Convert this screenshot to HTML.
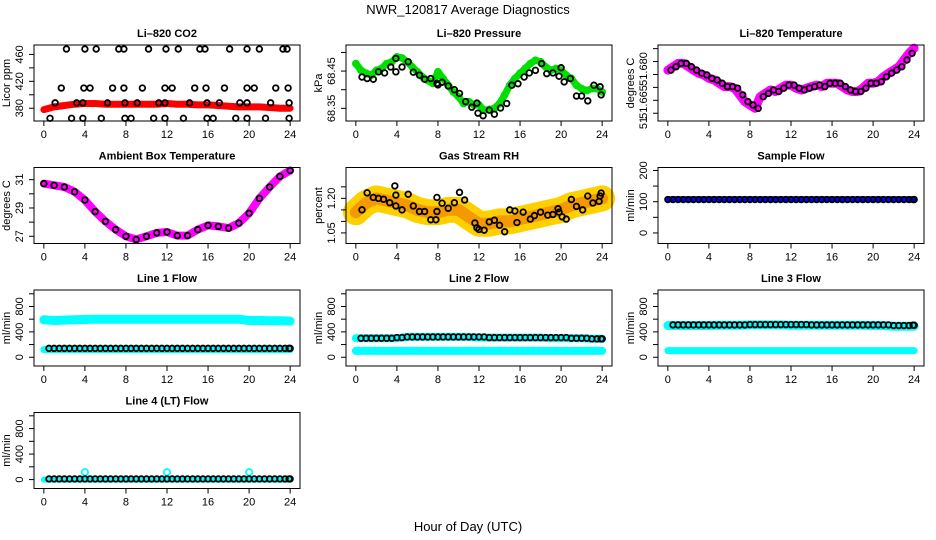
<!DOCTYPE html>
<html><head><meta charset="utf-8"><style>
html,body{margin:0;padding:0;background:#fff;}
svg{display:block;font-family:"Liberation Sans",sans-serif;}
</style></head><body>
<svg id="chart" width="936" height="540" viewBox="0 0 936 540" xmlns="http://www.w3.org/2000/svg">
<text x="468" y="14" text-anchor="middle" font-size="13">NWR_120817  Average Diagnostics</text>
<text x="468" y="531" text-anchor="middle" font-size="13">Hour of Day (UTC)</text>
</svg>
<script>
// ---- data ----
const co2Hours=[0,1,2,3,4,5,6,7,8,9,10,11,12,13,14,15,16,17,18,19,20,21,22,23,24];
const co2Red=[378,382,384,386,387,387,386,386,386,386,386,386,387,386,386,385,385,384,383,382,382,382,381,380,380];
const co2BlackHours=[2.2,4.0,5.1,7.3,7.8,10.2,11.9,13.1,15.2,15.7,18.1,19.8,21.0,23.3,23.7,1.7,3.9,4.5,6.7,7.8,9.6,11.8,12.5,14.7,15.8,17.6,19.8,20.5,22.6,23.8,1.1,3.2,3.8,6.2,7.9,9.1,11.2,11.8,14.2,15.9,17.1,19.1,19.8,22.1,23.9,0.6,2.7,3.8,5.6,7.9,8.5,10.7,11.8,13.6,15.9,16.5,18.7,19.8,21.6,23.9];
const co2BlackValues=[468,468,468,468,468,468,468,468,468,468,468,468,468,468,468,410,410,410,410,410,410,410,410,410,410,410,410,410,410,410,388,388,388,388,388,388,388,388,388,388,388,388,388,388,388,365,365,365,365,365,365,365,365,365,365,365,365,365,365,365];

const halfHours=[0,0.5,1,1.5,2,2.5,3,3.5,4,4.5,5,5.5,6,6.5,7,7.5,8,8.5,9,9.5,10,10.5,11,11.5,12,12.5,13,13.5,14,14.5,15,15.5,16,16.5,17,17.5,18,18.5,19,19.5,20,20.5,21,21.5,22,22.5,23,23.5,24];
const presGreen=[68.470,68.452,68.444,68.439,68.452,68.457,68.470,68.475,68.488,68.485,68.475,68.461,68.448,68.434,68.425,68.417,68.448,68.430,68.412,68.394,68.381,68.363,68.368,68.359,68.359,68.345,68.347,68.350,68.363,68.386,68.412,68.430,68.444,68.457,68.470,68.479,68.475,68.461,68.452,68.457,68.452,68.439,68.430,68.412,68.403,68.398,68.403,68.403,68.394];
const presBlackHours=[0.6,1.1,1.7,2.2,2.8,3.4,3.9,3.9,4.5,5.1,5.6,6.2,6.7,7.3,7.9,8.0,8.4,9.0,9.6,10.1,10.7,11.3,11.8,11.9,12.4,13.0,13.5,14.1,14.7,15.2,15.8,16.4,16.9,17.5,18.1,18.6,19.2,19.8,20.0,20.3,20.9,21.5,22.0,22.6,23.2,23.8,23.9];
const presBlackValues=[68.434,68.430,68.428,68.448,68.445,68.461,68.448,68.484,68.461,68.475,68.447,68.439,68.428,68.430,68.417,68.413,68.420,68.410,68.400,68.390,68.368,68.353,68.364,68.337,68.330,68.345,68.334,68.351,68.363,68.412,68.416,68.434,68.445,68.452,68.470,68.443,68.445,68.436,68.459,68.421,68.430,68.383,68.383,68.370,68.412,68.408,68.386];

const tempMagenta=[51.6767,51.678,51.6793,51.6793,51.678,51.6767,51.6755,51.6748,51.6735,51.6729,51.6716,51.6703,51.6703,51.6697,51.6671,51.6645,51.6632,51.6619,51.6664,51.6677,51.669,51.6684,51.6697,51.6709,51.6709,51.6697,51.669,51.6697,51.6703,51.6709,51.6703,51.6716,51.6716,51.6716,51.6703,51.669,51.6684,51.6684,51.6697,51.6716,51.6716,51.6722,51.6741,51.6755,51.6767,51.678,51.6806,51.6832,51.6852];

const hourly=[0,1,2,3,4,5,6,7,8,9,10,11,12,13,14,15,16,17,18,19,20,21,22,23,24];
const ambient=[30.72,30.6,30.48,30.14,29.56,28.74,28.05,27.47,27.0,26.77,27.0,27.24,27.3,27.05,27.05,27.47,27.77,27.7,27.58,27.93,28.63,29.68,30.48,31.23,31.65];

const rhBand=[1.14,1.18,1.2,1.19,1.18,1.17,1.15,1.14,1.14,1.15,1.15,1.12,1.09,1.09,1.1,1.1,1.11,1.12,1.13,1.14,1.15,1.17,1.18,1.19,1.2];
const rhBlackHours=[0.6,1.1,1.7,2.2,2.7,3.3,3.8,3.9,3.9,4.5,5.1,5.6,6.2,6.7,7.3,7.8,7.9,7.9,8.4,9.0,9.6,10.1,10.6,11.6,11.8,12.0,12.5,13.0,13.5,14.0,14.5,15.0,15.5,15.7,16.3,17.0,17.4,18.0,18.7,19.2,19.7,19.8,20.1,20.5,21.0,21.5,22.1,22.6,23.1,23.7,23.8,23.9];
const rhBlackValues=[1.15,1.224,1.204,1.2,1.196,1.181,1.254,1.214,1.167,1.15,1.218,1.167,1.143,1.143,1.107,1.107,1.143,1.204,1.179,1.157,1.181,1.226,1.193,1.093,1.072,1.065,1.062,1.098,1.105,1.083,1.055,1.15,1.145,1.095,1.14,1.11,1.125,1.14,1.127,1.13,1.155,1.14,1.12,1.11,1.195,1.165,1.15,1.21,1.18,1.187,1.21,1.223];

const sampleBlue=[108,108,108,108,108,108,108,108,108,108,108,108,108,108,108,108,108,108,108,108,108,108,108,108,108];
const sampleBlack=[107,107,107,107,107,107,107,107,107,107,107,107,107,107,107,107,107,107,107,107,107,107,107,107,107];

const line1CyanHigh=[590,580,585,590,595,600,600,600,600,600,600,600,600,600,600,600,600,600,600,600,580,580,575,575,570];
const line1CyanLow=[120,120,120,120,120,120,120,120,120,120,120,120,120,120,120,120,120,120,120,120,120,120,120,120,120];
const line1Black=[140,140,140,140,140,140,140,140,140,140,140,140,140,140,140,140,140,140,140,140,140,140,140,140,140];
const line2CyanHigh=[300,300,300,300,300,320,320,320,320,320,320,320,310,310,310,310,310,310,310,300,300,300,300,290,290];
const line2CyanLow=[100,100,100,100,100,100,100,100,100,100,100,100,100,100,100,100,100,100,100,100,100,100,100,100,100];
const line2Black=[300,300,300,300,310,320,320,320,320,320,320,320,320,310,310,310,310,310,310,310,310,300,300,290,290];
const line3CyanHigh=[500,500,500,500,500,505,505,505,510,510,510,510,505,505,505,505,505,505,505,505,500,500,490,490,490];
const line3CyanLow=[105,105,105,105,105,105,105,105,105,105,105,105,105,105,105,105,105,105,105,105,105,105,105,105,105];
const line3Black=[510,510,510,510,510,510,510,510,515,515,515,515,515,515,510,510,510,510,510,510,510,510,500,500,505];
const line4Cyan=[0,0,0,0,0,0,0,0,0,0,0,0,0,0,0,0,0,0,0,0,0,0,0,0,0];
const line4Spikes=[4,12,20];
const line4SpikeValues=[115,115,115];
const line4Black=[10,10,10,10,10,10,10,10,10,10,10,10,10,10,10,10,10,10,10,10,10,10,10,10,10];

// ---- drawing ----
const NS="http://www.w3.org/2000/svg";
const svg=document.getElementById('chart');
const colLeft=[34,346,658], rowTop=[45,167.5,290,412.5], PW=266, PH=76;
function mk(tag,attrs,parent){const e=document.createElementNS(NS,tag);for(const k in attrs)e.setAttribute(k,attrs[k]);(parent||svg).appendChild(e);return e;}

function panel(name,col,row,ymin,ymax,ticks,labels,ylab,title,labelY){
  const L=colLeft[col],T=rowTop[row];
  const g=mk('g',{});
  
  
  const xs=h=>L+(h+0.96)/25.92*PW;
  const ys=v=>T+PH-(v-ymin)/(ymax-ymin)*PH;
  const t=mk('text',{x:L+PW/2,y:T-8,'text-anchor':'middle','font-size':11,'font-weight':'bold'},g);
  t.textContent=title;
  
  
  const plot=mk('g',{},g);
  
  
  const axes=mk('g',{stroke:'#000','stroke-width':1,fill:'none'},g);
  
  
  mk('rect',{x:L,y:T,width:PW,height:PH},axes);
  [0,4,8,12,16,20,24].forEach(h=>{
    mk('line',{x1:xs(h),x2:xs(h),y1:T+PH,y2:T+PH+5},axes);
    const tx=mk('text',{x:xs(h),y:T+PH+17,'text-anchor':'middle','font-size':11,fill:'#000',stroke:'none'},g);
    tx.textContent=h;
    
    
  });
  ticks.forEach((v,i)=>{
    const y=ys(v);
    mk('line',{x1:L-5,x2:L,y1:y,y2:y},axes);
    if(labels[i]!==''){
      const yy=labelY?labelY[i]:y;
      const ty=mk('text',{x:0,y:0,'text-anchor':'middle','font-size':11,fill:'#000',transform:`translate(${L-11},${yy}) rotate(-90)`},g);
      ty.textContent=labels[i];
      
      
    }
  });
  const yl=mk('text',{x:0,y:0,'text-anchor':'middle','font-size':11,transform:`translate(${L-24},${T+PH/2}) rotate(-90)`},g);
  yl.textContent=ylab;
  
  
  return {xs,ys,plot};
}
function band(p,hours,vals,color,w,name){
  const pts=hours.map((h,i)=>p.xs(h).toFixed(1)+','+p.ys(vals[i]).toFixed(1)).join(' ');
  const pl=mk('polyline',{points:pts,fill:'none',stroke:color,'stroke-width':w,'stroke-linejoin':'round','stroke-linecap':'round'},p.plot);
  
  
}
function pts(p,hours,vals,color,name,r){
  const g=mk('g',{fill:'none',stroke:color,'stroke-width':1.8},p.plot);
  
  
  hours.forEach((h,i)=>{
    const c=mk('circle',{cx:p.xs(h),cy:p.ys(vals[i]),r:r||2.8},g);
    
    
  });
}
const halfOffsets=hourly.map(h=>h<24?h+0.5:23.9);

let p=panel('co2',0,0,361,474,[380,400,420,440,460],['380','','420','','460'],'Licor ppm','Li\u2013820 CO2');
band(p,co2Hours,co2Red,'#ff0000',7,'co2-red-series');
pts(p,co2BlackHours,co2BlackValues,'#000','co2-black-series');

p=panel('pressure',1,0,68.316,68.52,[68.35,68.40,68.45,68.50],['68.35','','68.45',''],'kPa','Li\u2013820 Pressure');
band(p,halfHours,presGreen,'#00e000',7,'pressure-green-band');
pts(p,halfHours,presGreen,'#00e000','pressure-green-series',3);
pts(p,presBlackHours,presBlackValues,'#000','pressure-black-series');

p=panel('li820-temp',2,0,51.657,51.6864,[51.660,51.665,51.670,51.675,51.680,51.685],['','51.665','','','51.680',''],'degrees C','Li\u2013820 Temperature',[0,102,0,0,69,0]);
const stub=mk('text',{x:0,y:0,'text-anchor':'middle','font-size':11,transform:'translate(647,123) rotate(-90)'});
stub.textContent='51';


band(p,halfHours,tempMagenta,'#ff00ff',9,'temp-magenta-band');
pts(p,halfHours,tempMagenta,'#ff00ff','temp-magenta-series',3.2);
pts(p,halfHours.map(h=>h+0.3).filter(h=>h<=24),tempMagenta.slice(0,48),'#000','temp-black-series');

p=panel('ambient',0,1,26.49,31.86,[27,28,29,30,31],['27','','29','','31'],'degrees C','Ambient Box Temperature');
band(p,hourly,ambient,'#ff00ff',8,'ambient-magenta-band');
pts(p,hourly,ambient,'#000','ambient-black-series');

p=panel('rh',1,1,1.004,1.334,[1.05,1.10,1.15,1.20,1.25],['1.05','','','1.20',''],'percent','Gas Stream RH');
band(p,hourly,rhBand,'#ffd000',26,'rh-yellow-band');
band(p,hourly,rhBand,'#f49a00',12,'rh-orange-core');
pts(p,rhBlackHours,rhBlackValues,'#000','rh-black-series');

p=panel('sample-flow',2,1,-33.8,209.5,[0,50,100,150,200],['0','','100','','200'],'ml/min','Sample Flow');
band(p,hourly,sampleBlue,'#0000ff',6,'sample-blue-band');
pts(p,halfOffsets,sampleBlack,'#000','sample-black-series');
pts(p,hourly,sampleBlack,'#000','sample-black-series-2');

const fT=[0,200,400,600,800,1000], fL=['0','','400','','800',''];
p=panel('line1',0,2,-138,1060,fT,fL,'ml/min','Line 1 Flow');
band(p,hourly,line1CyanHigh,'#00ffff',9,'line1-cyan-high');
band(p,hourly,line1CyanLow,'#00ffff',7,'line1-cyan-low');
pts(p,halfOffsets,line1Black,'#000','line1-black-series');
pts(p,hourly.slice(1),line1Black.slice(1),'#000','line1-black-series-2');
p=panel('line2',1,2,-138,1060,fT,fL,'ml/min','Line 2 Flow');
band(p,hourly,line2CyanHigh,'#00ffff',8,'line2-cyan-high');
band(p,hourly,line2CyanLow,'#00ffff',8,'line2-cyan-low');
pts(p,halfOffsets,line2Black,'#000','line2-black-series');
pts(p,hourly.slice(1),line2Black.slice(1),'#000','line2-black-series-2');
p=panel('line3',2,2,-138,1060,fT,fL,'ml/min','Line 3 Flow');
band(p,hourly,line3CyanHigh,'#00ffff',9,'line3-cyan-high');
band(p,hourly,line3CyanLow,'#00ffff',7,'line3-cyan-low');
pts(p,halfOffsets,line3Black,'#000','line3-black-series');
pts(p,hourly.slice(1),line3Black.slice(1),'#000','line3-black-series-2');
p=panel('line4',0,3,-140,1052,fT,fL,'ml/min','Line 4 (LT) Flow');
band(p,hourly,line4Cyan,'#00ffff',6,'line4-cyan-band');
pts(p,line4Spikes,line4SpikeValues,'#00ffff','line4-cyan-spikes',3.2);
pts(p,halfOffsets,line4Black,'#000','line4-black-series');
pts(p,hourly.slice(1),line4Black.slice(1),'#000','line4-black-series-2');
</script>
</body></html>
